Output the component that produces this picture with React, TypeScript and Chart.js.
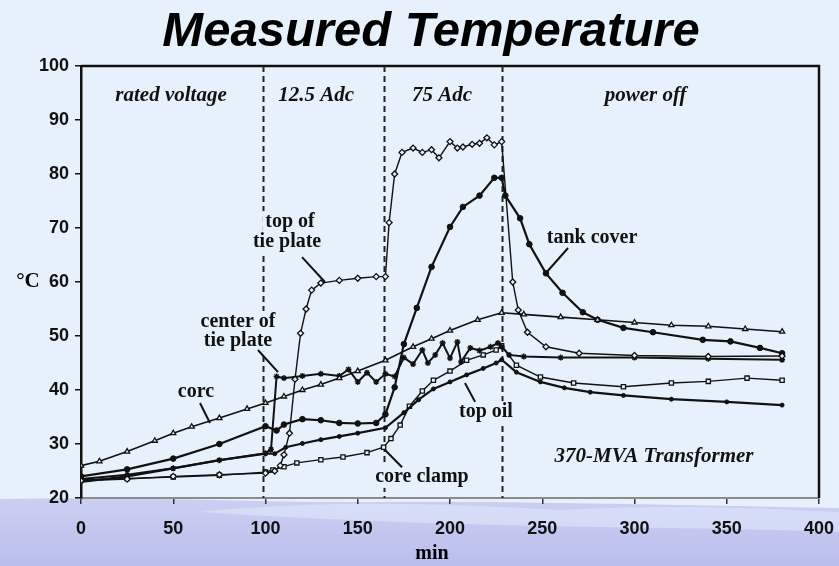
import { useEffect, useRef } from 'react';
import { Chart, registerables } from 'chart.js';
Chart.register(...registerables);

// ---------- data (minutes, °C) ----------
const coreX = [0, 10, 25, 40, 50, 60, 75, 90, 100, 110, 120, 130, 140, 150, 165, 180, 190, 200, 215, 228, 240, 260, 280, 300, 320, 340, 360, 380];
const coreY = [26, 26.8, 28.6, 30.6, 32, 33.2, 34.8, 36.5, 37.6, 38.8, 40, 41, 42.2, 43.5, 45.5, 48, 49.5, 51, 53, 54.3, 54, 53.5, 53, 52.5, 52, 51.8, 51.3, 50.8];

const topTieX = [0, 25, 50, 75, 100, 105, 108, 110, 113, 116, 119, 122, 125, 130, 140, 150, 160, 165, 167, 170, 174, 180, 185, 190, 194, 200, 204, 207, 212, 216, 220, 224, 228, 234, 237, 242, 252, 270, 300, 340, 380];
const topTieY = [23.2, 23.5, 24, 24.3, 24.6, 25, 26, 28, 32, 42, 50.5, 55, 58.5, 59.8, 60.3, 60.7, 61, 61, 71, 80, 84, 84.8, 84, 84.5, 83, 86, 84.8, 85, 85.5, 85.7, 86.7, 85.4, 86, 60, 54.8, 50.7, 48, 46.8, 46.4, 46.2, 46.3];

const tankX = [0, 25, 50, 75, 100, 106, 110, 120, 130, 140, 150, 160, 165, 170, 175, 182, 190, 200, 207, 216, 224, 228, 230, 238, 243, 252, 261, 272, 280, 294, 310, 337, 352, 368, 380];
const tankY = [24, 25.3, 27.3, 30, 33.3, 32.5, 33.6, 34.6, 34.4, 33.9, 33.8, 33.9, 35.5, 40.5, 48.5, 55.2, 62.8, 70.2, 73.9, 76, 79.3, 79.3, 76, 71.8, 67, 61.6, 58, 54.4, 53, 51.5, 50.7, 49.3, 49, 47.8, 46.8];

const centerX = [0, 25, 50, 75, 100, 103, 106, 110, 120, 130, 140, 145, 150, 155, 160, 165, 170, 175, 180, 185, 188, 192, 196, 200, 204, 206, 211, 216, 222, 226, 228, 232, 240, 260, 300, 340, 380];
const centerY = [23.5, 24.3, 25.5, 27, 28.3, 29, 42.5, 42.2, 42.6, 43, 42.6, 43.8, 41.5, 43.2, 41.5, 43, 42.5, 46, 44.8, 47.4, 45, 46.5, 48.7, 45.9, 48.9, 45.2, 47.8, 47.3, 48, 48.7, 48, 46.5, 46.2, 46, 46, 45.8, 45.6];

const oilX = [0, 25, 50, 75, 100, 105, 111, 120, 130, 140, 150, 165, 175, 183, 191, 200, 209, 218, 225, 228, 236, 249, 262, 276, 294, 320, 350, 380];
const oilY = [23, 24, 25.5, 27, 28.2, 28.2, 29.4, 30.1, 30.8, 31.4, 32, 33, 35.8, 38.2, 40.2, 41.5, 42.8, 44, 45, 45.6, 43.3, 41.5, 40.4, 39.6, 39, 38.3, 37.8, 37.2];

const clampX = [0, 25, 50, 75, 100, 104, 110, 117, 130, 142, 155, 164, 168, 173, 178, 185, 191, 200, 209, 218, 225, 228, 236, 249, 267, 294, 320, 340, 361, 380];
const clampY = [23.4, 23.6, 23.9, 24.2, 24.8, 25.2, 25.8, 26.5, 27.1, 27.6, 28.4, 29.4, 31, 33.5, 37, 39.8, 41.8, 43.5, 45.5, 46.5, 47.4, 48.2, 44.6, 42.4, 41.3, 40.6, 41.3, 41.6, 42.2, 41.8];

// phase boundaries (min)
const phaseX = [98.6, 164.2, 228.2];

// text annotations (data coordinates)
const noteText = ['rated voltage', '12.5 Adc', '75 Adc', 'power off', 'top of', 'tie plate', 'center of', 'tie plate', 'corc', 'tank cover', 'top oil', 'core clamp', '370-MVA Transformer'];
const noteX = [48.8, 127.4, 195.7, 306, 113.3, 111.7, 85.1, 85.1, 62.3, 277, 219.5, 184.8, 310.6];
const noteY = [94.6, 94.6, 94.6, 94.6, 71.1, 67.4, 52.6, 49.1, 39.6, 68.1, 35.9, 23.9, 27.6];
const noteItalic = [true, true, true, true, false, false, false, false, false, false, false, false, true];

// leader lines (data coordinates)
const leadX1 = [119.8, 95.9, 64.5, 264, 213.6, 174];
const leadY1 = [64.6, 47.4, 37.6, 66.3, 37.8, 25.7];
const leadX2 = [132.2, 106.8, 69.9, 252.6, 208.1, 164.8];
const leadY2 = [60, 43.3, 33.9, 61.9, 41.3, 28.9];

const titleText = 'Measured Temperature';
const yUnit = '°C';
const xUnit = 'min';

const BG = '#e7f1fb';
const SERIF = '"Liberation Serif", "DejaVu Serif", serif';
const SANS = '"Liberation Sans", Arial, sans-serif';

const zip = (xs: number[], ys: number[]) => xs.map((x, i) => ({ x, y: ys[i] }));

const decor = {
  id: 'decor',
  beforeDraw(chart: any) {
    const { ctx, width, height } = chart;
    ctx.save();
    ctx.fillStyle = BG;
    ctx.fillRect(0, 0, width, height);
    // lower wavy band
    const g = ctx.createLinearGradient(0, 498, 0, height);
    g.addColorStop(0, '#cbd0f2');
    g.addColorStop(0.5, '#c3c7ef');
    g.addColorStop(1, '#babeed');
    ctx.fillStyle = g;
    ctx.beginPath();
    ctx.moveTo(0, 499);
    ctx.bezierCurveTo(150, 496, 260, 503, 380, 502);
    ctx.bezierCurveTo(520, 501, 650, 505, 839, 508);
    ctx.lineTo(839, height);
    ctx.lineTo(0, height);
    ctx.closePath();
    ctx.fill();
    // lighter wave
    ctx.fillStyle = 'rgba(224,232,250,0.6)';
    ctx.beginPath();
    ctx.moveTo(200, 512);
    ctx.bezierCurveTo(320, 500, 440, 503, 560, 510);
    ctx.bezierCurveTo(660, 504, 760, 508, 839, 512);
    ctx.lineTo(839, 532);
    ctx.bezierCurveTo(700, 526, 480, 530, 200, 512);
    ctx.closePath();
    ctx.fill();
    ctx.restore();
  },
  beforeDatasetsDraw(chart: any) {
    const { ctx, chartArea: a, scales } = chart;
    const sx = scales.x, sy = scales.y;
    ctx.save();
    // top and right frame
    ctx.strokeStyle = '#111';
    ctx.lineWidth = 2.5;
    ctx.beginPath();
    ctx.moveTo(a.left, a.top);
    ctx.lineTo(a.right, a.top);
    ctx.lineTo(a.right, a.bottom);
    ctx.stroke();
    // phase lines
    ctx.setLineDash([6, 4]);
    ctx.lineWidth = 2;
    ctx.strokeStyle = '#222';
    phaseX.forEach((v) => {
      const px = Math.round(sx.getPixelForValue(v)) + 0.5;
      ctx.beginPath();
      ctx.moveTo(px, a.top);
      ctx.lineTo(px, a.bottom);
      ctx.stroke();
    });
    ctx.setLineDash([]);
    // text notes with background
    ctx.textAlign = 'center';
    ctx.textBaseline = 'middle';
    noteText.forEach((t, i) => {
      ctx.font = (noteItalic[i] ? 'italic bold 21px ' : 'bold 20px ') + SERIF;
      const px = sx.getPixelForValue(noteX[i]);
      const py = sy.getPixelForValue(noteY[i]);
      const w = ctx.measureText(t).width;
      ctx.fillStyle = BG;
      ctx.fillRect(px - w / 2 - 3, py - 11, w + 6, 22);
    });
    noteText.forEach((t, i) => {
      ctx.font = (noteItalic[i] ? 'italic bold 21px ' : 'bold 20px ') + SERIF;
      ctx.fillStyle = '#111';
      ctx.fillText(t, sx.getPixelForValue(noteX[i]), sy.getPixelForValue(noteY[i]));
    });
    // leader lines
    ctx.strokeStyle = '#111';
    ctx.lineWidth = 2;
    leadX1.forEach((v, i) => {
      ctx.beginPath();
      ctx.moveTo(sx.getPixelForValue(v), sy.getPixelForValue(leadY1[i]));
      ctx.lineTo(sx.getPixelForValue(leadX2[i]), sy.getPixelForValue(leadY2[i]));
      ctx.stroke();
    });
    ctx.restore();
  },
  afterDraw(chart: any) {
    const { ctx, chartArea: a, scales } = chart;
    ctx.save();
    ctx.fillStyle = '#000';
    ctx.textAlign = 'center';
    ctx.textBaseline = 'middle';
    ctx.font = 'italic bold 49px ' + SANS;
    ctx.fillText(titleText, 431, 32);
    ctx.font = 'bold 21px ' + SERIF;
    ctx.fillText(yUnit, 28, scales.y.getPixelForValue(60));
    ctx.font = 'bold 20px ' + SERIF;
    ctx.fillText(xUnit, 432, 554);
    ctx.restore();
  },
};

export default function App() {
  const ref = useRef<HTMLCanvasElement | null>(null);
  useEffect(() => {
    if (!ref.current) return;
    const common = { borderColor: '#111', tension: 0, pointBorderColor: '#111' };
    const chart = new Chart(ref.current, {
      type: 'line',
      data: {
        datasets: [
          { ...common, label: 'core', data: zip(coreX, coreY), borderWidth: 1.6, pointStyle: 'triangle', pointRadius: 3, pointBackgroundColor: BG, pointBorderWidth: 1.3 },
          { ...common, label: 'top of tie plate', data: zip(topTieX, topTieY), borderWidth: 1.4, pointStyle: 'rectRot', pointRadius: 3, pointBackgroundColor: BG, pointBorderWidth: 1.3 },
          { ...common, label: 'tank cover', data: zip(tankX, tankY), borderWidth: 2.2, pointStyle: 'circle', pointRadius: 2.8, pointBackgroundColor: '#111', pointBorderWidth: 1 },
          { ...common, label: 'center of tie plate', data: zip(centerX, centerY), borderWidth: 2, pointStyle: 'star', pointRadius: 3, pointBackgroundColor: '#111', pointBorderWidth: 1.4 },
          { ...common, label: 'top oil', data: zip(oilX, oilY), borderWidth: 2.2, pointStyle: 'circle', pointRadius: 2, pointBackgroundColor: '#111', pointBorderWidth: 1 },
          { ...common, label: 'core clamp', data: zip(clampX, clampY), borderWidth: 1.4, pointStyle: 'rect', pointRadius: 3, pointBackgroundColor: BG, pointBorderWidth: 1.3 },
        ],
      },
      options: {
        responsive: false,
        animation: false,
        events: [],
        layout: { padding: { top: 66, right: 20, left: 0, bottom: 0 } },
        plugins: { legend: { display: false }, tooltip: { enabled: false }, title: { display: false } },
        scales: {
          x: {
            type: 'linear',
            min: 0,
            max: 400,
            ticks: { stepSize: 50, color: '#111', padding: 14, maxRotation: 0, font: { family: SANS, size: 18, weight: 'bold' } },
            grid: { drawOnChartArea: false, drawTicks: true, tickLength: 6, color: '#333', lineWidth: 1.5 },
            border: { display: true, color: '#8c8c8c', width: 2 },
            afterFit: (s: any) => { s.height = 68; s.paddingLeft = 0; s.paddingRight = 0; },
          },
          y: {
            min: 20,
            max: 100,
            ticks: { stepSize: 10, color: '#111', padding: 6, font: { family: SANS, size: 18, weight: 'bold' } },
            grid: { drawOnChartArea: false, drawTicks: true, tickLength: 6, color: '#111', lineWidth: 1.5 },
            border: { display: true, color: '#111', width: 2.5 },
            afterFit: (s: any) => { s.width = 81; s.paddingTop = 0; s.paddingBottom = 0; },
          },
        },
      },
      plugins: [decor],
    } as any);
    return () => chart.destroy();
  }, []);
  return (
    <div style={{ position: 'fixed', left: 0, top: 0, width: 839, height: 566, background: BG }}>
      <canvas ref={ref} width={839} height={566} style={{ display: 'block' }} />
    </div>
  );
}
